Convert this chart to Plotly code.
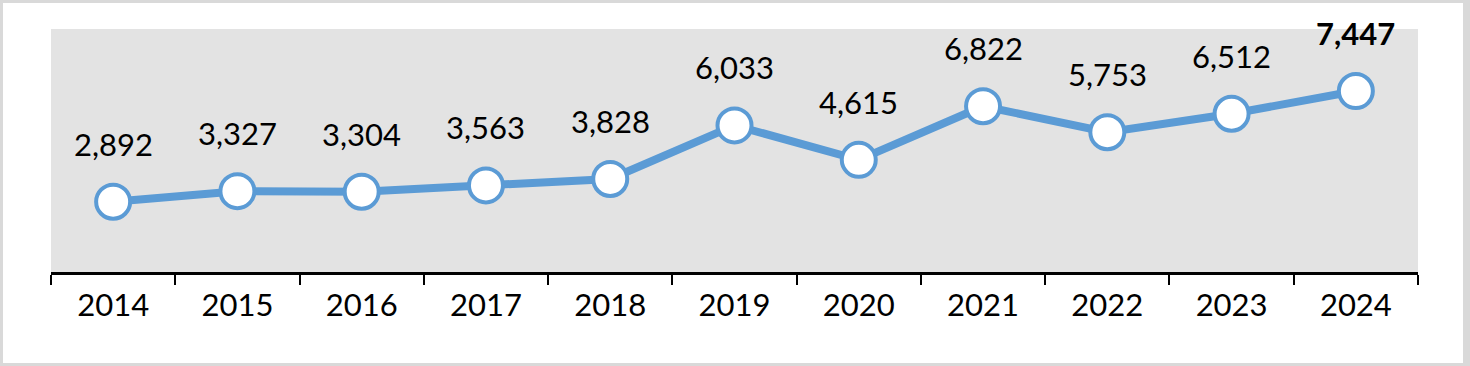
import plotly.graph_objects as go

years = ["2014", "2015", "2016", "2017", "2018", "2019", "2020", "2021", "2022", "2023", "2024"]
values = [2892, 3327, 3304, 3563, 3828, 6033, 4615, 6822, 5753, 6512, 7447]
labels = [f"{v:,}" for v in values]
labels[-1] = f"<b>{labels[-1]}</b>"

W, H = 1470, 366
L, R, T, B = 51, 1418, 29, 272
pw, ph = R - L, B - T

def px_x(p):
    return (p - L) / pw

def px_y(p):
    return (B - p) / ph

BLUE = "#5b9bd5"
BORDER = "#d9d9d9"
FONT = "Lato"

fig = go.Figure()
fig.add_trace(go.Scatter(
    x=years, y=values, mode="lines+markers",
    line=dict(color=BLUE, width=8),
    marker=dict(size=34, color="white", line=dict(color=BLUE, width=4)),
    hoverinfo="skip", showlegend=False,
))

for i, (v, t) in enumerate(zip(values, labels)):
    fig.add_annotation(x=i, y=v, text=t, showarrow=False, yshift=58,
                       font=dict(family=FONT, size=31, color="black"))

# outer border
fig.add_shape(type="rect", xref="paper", yref="paper",
              x0=px_x(1.5), x1=px_x(1464.5), y0=px_y(364.5), y1=px_y(1.5),
              line=dict(color=BORDER, width=3))
fig.add_shape(type="rect", xref="paper", yref="paper",
              x0=px_x(1463), x1=px_x(1470), y0=px_y(366), y1=px_y(0),
              fillcolor=BORDER, line=dict(width=0))

fig.update_xaxes(
    type="category", categoryorder="array", categoryarray=years,
    range=[-0.5, len(years) - 0.5],
    showline=True, linecolor="black", linewidth=3,
    ticks="outside", tickson="boundaries", ticklen=10, tickwidth=2, tickcolor="black",
    ticklabelstandoff=4,
    showgrid=False, zeroline=False, tickangle=0,
    tickfont=dict(family=FONT, size=31, color="black"),
)
fig.update_yaxes(range=[0, 10000], visible=False, showgrid=False, zeroline=False)

fig.update_layout(
    width=W, height=H,
    margin=dict(l=L, r=W - R, t=T, b=H - B, pad=0),
    paper_bgcolor="white", plot_bgcolor="#e3e3e3",
)

fig.write_html("out.html", config={"displayModeBar": False, "staticPlot": True},
               post_script="document.body.style.margin='0';document.body.style.overflow='hidden';")
